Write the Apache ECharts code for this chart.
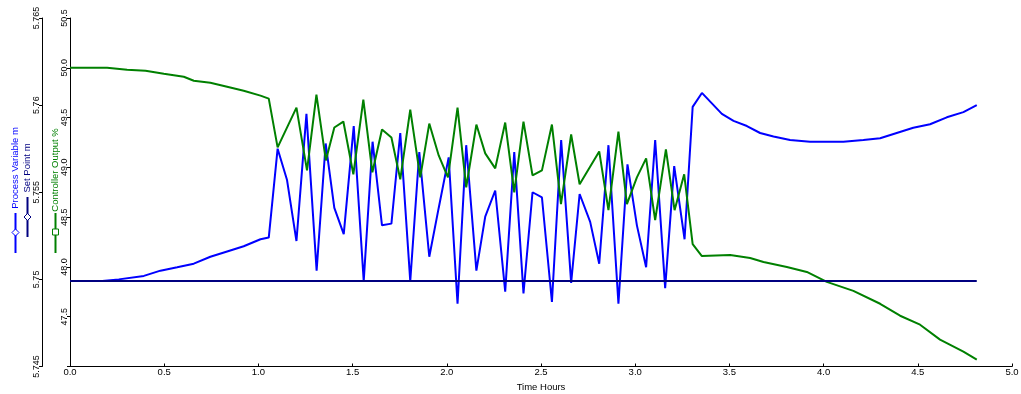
<!DOCTYPE html>
<html>
<head>
<meta charset="utf-8">
<script src="https://cdn.jsdelivr.net/npm/echarts@6/dist/echarts.min.js"></script>
<style>
html,body{margin:0;padding:0;background:#fff;overflow:hidden;}
#c{width:1021px;height:394px;}
</style>
</head>
<body>
<div id="c"></div>
<script>
// Controller Output % (inner axis)
const coTime = [0, 0.197, 0.303, 0.401, 0.498, 0.604, 0.657, 0.745, 0.834, 0.922, 1.011, 1.055, 1.102, 1.202, 1.258, 1.308, 1.358, 1.403, 1.451, 1.504, 1.557, 1.605, 1.656, 1.706, 1.753, 1.806, 1.859, 1.907, 1.957, 2.006, 2.057, 2.103, 2.157, 2.204, 2.257, 2.310, 2.358, 2.407, 2.455, 2.505, 2.558, 2.606, 2.660, 2.705, 2.809, 2.858, 2.911, 2.956, 3.009, 3.058, 3.106, 3.163, 3.209, 3.260, 3.305, 3.353, 3.504, 3.610, 3.681, 3.805, 3.911, 4.017, 4.158, 4.300, 4.406, 4.512, 4.618, 4.742, 4.813];
const coValues = [50.00, 50.00, 49.98, 49.97, 49.94, 49.91, 49.87, 49.85, 49.81, 49.77, 49.72, 49.69, 49.20, 49.60, 48.97, 49.73, 49.07, 49.40, 49.46, 48.93, 49.68, 48.95, 49.38, 49.30, 48.88, 49.58, 48.90, 49.44, 49.12, 48.90, 49.60, 48.80, 49.43, 49.14, 48.99, 49.45, 48.75, 49.46, 48.92, 48.97, 49.43, 48.63, 49.33, 48.83, 49.16, 48.57, 49.36, 48.63, 48.90, 49.09, 48.47, 49.18, 48.57, 48.93, 48.23, 48.11, 48.12, 48.09, 48.05, 48.00, 47.95, 47.85, 47.76, 47.63, 47.51, 47.42, 47.27, 47.15, 47.07];

// Process Variable m (outer axis)
const pvTime = [0, 0.171, 0.259, 0.392, 0.480, 0.569, 0.657, 0.745, 0.834, 0.922, 1.011, 1.055, 1.102, 1.152, 1.202, 1.255, 1.309, 1.357, 1.403, 1.453, 1.506, 1.559, 1.606, 1.656, 1.706, 1.753, 1.806, 1.854, 1.907, 1.957, 2.010, 2.057, 2.103, 2.157, 2.204, 2.257, 2.310, 2.358, 2.407, 2.455, 2.505, 2.558, 2.607, 2.660, 2.705, 2.761, 2.809, 2.858, 2.911, 2.959, 3.009, 3.058, 3.106, 3.159, 3.207, 3.262, 3.305, 3.354, 3.407, 3.460, 3.522, 3.593, 3.663, 3.734, 3.822, 3.928, 4.105, 4.211, 4.300, 4.388, 4.476, 4.565, 4.654, 4.742, 4.813];
const pvValues = [5.7499, 5.7499, 5.7500, 5.7502, 5.7505, 5.7507, 5.7509, 5.7513, 5.7516, 5.7519, 5.7523, 5.7524, 5.7575, 5.7557, 5.7522, 5.7595, 5.7505, 5.7578, 5.7541, 5.7526, 5.7588, 5.7499, 5.7579, 5.7531, 5.7532, 5.7584, 5.7499, 5.7573, 5.7513, 5.7541, 5.7570, 5.7486, 5.7577, 5.7505, 5.7536, 5.7551, 5.7493, 5.7573, 5.7492, 5.7550, 5.7547, 5.7487, 5.7580, 5.7498, 5.7549, 5.7533, 5.7509, 5.7577, 5.7486, 5.7566, 5.7531, 5.7507, 5.7580, 5.7495, 5.7565, 5.7523, 5.7599, 5.7607, 5.7601, 5.7595, 5.7591, 5.7588, 5.7584, 5.7582, 5.7580, 5.7579, 5.7579, 5.7580, 5.7581, 5.7584, 5.7587, 5.7589, 5.7593, 5.7596, 5.7600];

// Set Point m
const spTime = [0, 4.813];
const spValues = [5.7499, 5.7499];

// Axis ranges / tick spacing
const xTicks = {min: 0, max: 5, interval: 0.5};
const pctTicks = {min: 47, max: 50.5, interval: 0.5};
const mTicks = {min: 5.745, max: 5.765, interval: 0.005};
const legendNames = ['Process Variable m', 'Set Point m', 'Controller Output %'];
const xName = 'Time Hours';

const FONT = '"Liberation Sans", Arial, sans-serif';
const zip = (a, b) => a.map((t, i) => [t, b[i]]);
const BLUE = '#0000FF', NAVY = '#000080', GREEN = '#008000';
const chart = echarts.init(document.getElementById('c'), null, {renderer: 'canvas', width: 1021, height: 394});

function yAxisBase(t, offset, fmt) {
  return {
    type: 'value', position: 'left', offset: offset,
    min: t.min, max: t.max, interval: t.interval,
    axisLine: {show: true, onZero: false, lineStyle: {color: '#000', width: 1}},
    axisTick: {show: true, length: 3, lineStyle: {color: '#000', width: 1}},
    axisLabel: {rotate: 90, margin: 1, fontSize: 9, fontFamily: FONT, color: '#000', formatter: fmt},
    splitLine: {show: false}
  };
}
function legendGraphic(cx, textCy, color, name, lineY1, lineY2, markY, square) {
  const els = [
    {type: 'text', x: cx, y: textCy, rotation: Math.PI / 2,
     style: {text: name, fill: color, fontSize: 9.5, fontFamily: FONT, align: 'center', verticalAlign: 'middle'}},
    {type: 'line', shape: {x1: cx, y1: lineY1, x2: cx, y2: lineY2}, style: {stroke: color, lineWidth: 2}}
  ];
  if (square) {
    els.push({type: 'rect', shape: {x: cx - 3, y: markY - 3, width: 6, height: 6}, style: {fill: '#fff', stroke: color, lineWidth: 1}});
  } else {
    els.push({type: 'polygon', shape: {points: [[cx, markY - 3.5], [cx + 3.5, markY], [cx, markY + 3.5], [cx - 3.5, markY]]}, style: {fill: '#fff', stroke: color, lineWidth: 1}});
  }
  return els;
}
const option = {
  animation: false,
  backgroundColor: '#fff',
  grid: {left: 70, right: 9, top: 18, bottom: 27.5, containLabel: false, outerBoundsMode: 'none'},
  xAxis: {
    type: 'value', min: xTicks.min, max: xTicks.max, interval: xTicks.interval,
    name: xName, nameLocation: 'middle', nameGap: 11,
    nameTextStyle: {fontSize: 9.5, fontFamily: FONT, color: '#000'},
    axisLine: {show: true, onZero: false, lineStyle: {color: '#000', width: 1}},
    axisTick: {show: true, inside: true, length: 3, lineStyle: {color: '#000'}},
    axisLabel: {margin: 1, fontSize: 9.5, fontFamily: FONT, color: '#000', formatter: v => v.toFixed(1)},
    splitLine: {show: false}
  },
  yAxis: [
    yAxisBase(pctTicks, 0, v => (v === pctTicks.min ? '' : v.toFixed(1))),
    yAxisBase(mTicks, 28, v => String(+v.toFixed(3)))
  ],
  series: [
    {name: legendNames[0], type: 'line', yAxisIndex: 1, data: zip(pvTime, pvValues), showSymbol: false,
     lineStyle: {color: BLUE, width: 2}, itemStyle: {color: BLUE}, z: 2},
    {name: legendNames[2], type: 'line', yAxisIndex: 0, data: zip(coTime, coValues), showSymbol: false,
     lineStyle: {color: GREEN, width: 2}, itemStyle: {color: GREEN}, z: 3},
    {name: legendNames[1], type: 'line', yAxisIndex: 1, data: zip(spTime, spValues), showSymbol: false,
     lineStyle: {color: NAVY, width: 2}, itemStyle: {color: NAVY}, z: 4}
  ],
  graphic: [].concat(
    legendGraphic(15.5, 168, BLUE, legendNames[0], 213, 253, 232.5, false),
    legendGraphic(27.5, 168, NAVY, legendNames[1], 197, 237, 217, false),
    legendGraphic(55.5, 170, GREEN, legendNames[2], 213, 253, 232, true)
  )
};
chart.setOption(option);
</script>
</body>
</html>
